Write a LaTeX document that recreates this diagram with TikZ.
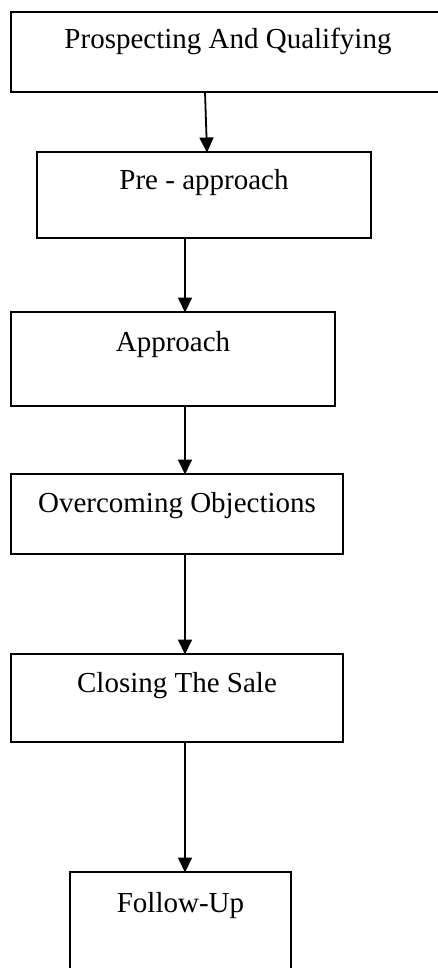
\documentclass[tikz,border=0pt]{standalone}
\usepackage{fontspec}
\setmainfont{Liberation Serif}
\usetikzlibrary{arrows.meta,calc}
\begin{document}
\begin{tikzpicture}[x=1pt,y=-1pt,
  stagebox/.style={draw, line width=1.8pt, anchor=north west, inner sep=0pt, outer sep=0pt},
  stagetext/.style={anchor=base, inner sep=0pt, font=\fontsize{29}{34}\selectfont},
  flow/.style={line width=1.8pt, -{Triangle[length=15pt,width=14pt]}, shorten >=-0.5pt}]
\useasboundingbox (0,0) rectangle (437,968);
\coordinate (spine) at (185,0);
% stage boxes
\node[stagebox, minimum width=434pt, minimum height=80pt] (b1) at (11,12) {};
\node[stagebox, minimum width=334pt, minimum height=86pt] (b2) at (37,152) {};
\node[stagebox, minimum width=324pt, minimum height=94pt] (b3) at (11,312) {};
\node[stagebox, minimum width=332pt, minimum height=80pt] (b4) at (11,474) {};
\node[stagebox, minimum width=332pt, minimum height=88pt] (b5) at (11,654) {};
\node[stagebox, minimum width=221pt, minimum height=120pt] (b6) at (70,872) {};
% stage labels
\node[stagetext] (t1) at ($(b1.north)+(0,37)$) {Prospecting And Qualifying};
\node[stagetext] (t2) at ($(b2.north)+(0,38)$) {Pre - approach};
\node[stagetext] (t3) at ($(b3.north)+(0,39)$) {Approach};
\node[stagetext] (t4) at ($(b4.north)+(0,38)$) {Overcoming Objections};
\node[stagetext] (t5) at ($(b5.north)+(0,38)$) {Closing The Sale};
\node[stagetext] (t6) at ($(b6.north)+(0,40)$) {Follow-Up};
% connectors
\coordinate (a1s) at ($(b1.south west)+(194,0)$);
\coordinate (a1e) at ($(b2.north west)+(170,0)$);
\draw[flow] (a1s) -- (a1e);
\draw[flow] (b2.south -| spine) -- (b3.north -| spine);
\draw[flow] (b3.south -| spine) -- (b4.north -| spine);
\draw[flow] (b4.south -| spine) -- (b5.north -| spine);
\draw[flow] (b5.south -| spine) -- (b6.north -| spine);
\end{tikzpicture}
\end{document}
